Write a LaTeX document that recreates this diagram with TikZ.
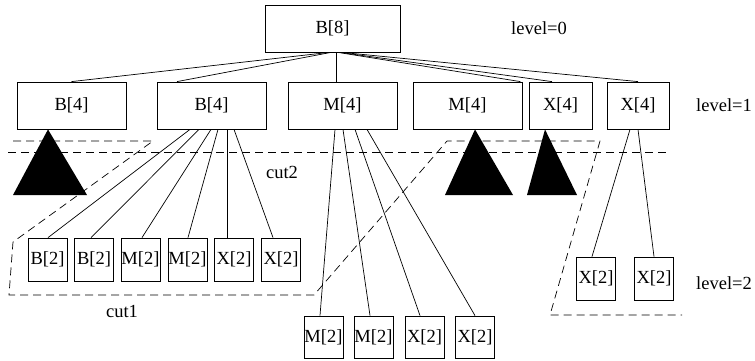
\documentclass[tikz,border=0pt]{standalone}
\usepackage{fontspec}
\setmainfont{Liberation Serif}
\begin{document}
\begin{tikzpicture}[x=1pt,y=-1pt,
  every node/.style={font=\fontsize{18.5}{20}\selectfont, inner sep=0pt},
  box/.style={draw, line width=0.8pt, minimum height=47pt},
  bigbox/.style={box, minimum width=109pt},
  smallbox/.style={draw, line width=0.8pt, minimum width=39pt, minimum height=43pt},
  edge/.style={line width=0.7pt},
  cutline/.style={line width=0.7pt, dash pattern=on 8pt off 5pt},
  tri/.style={fill=black}
]
\useasboundingbox (0,0) rectangle (755,360);

% root
\node[box, minimum width=135pt] (root) at (332.5,28.5) {B[8]};
% level 1
\node[bigbox] (b1) at (71.5,105.5) {B[4]};
\node[bigbox] (b2) at (211.5,105.5) {B[4]};
\node[bigbox] (m1) at (342.5,105.5) {M[4]};
\node[bigbox] (m2) at (467.5,105.5) {M[4]};
\node[box, minimum width=63pt] (x1) at (560.5,105.5) {X[4]};
\node[box, minimum width=62pt] (x2) at (638,105.5) {X[4]};

% labels
\node (l0) at (539,28) {level=0};
\node (l1) at (724,105) {level=1};
\node (l2) at (724,283) {level=2};
\node (c2) at (282,172) {cut2};
\node (c1) at (122,311) {cut1};

% root edges
\draw[edge] ([xshift=-3.5pt]root.south) -- (b1.north);
\draw[edge] ([xshift=-1.5pt]root.south) -- ([xshift=-34.5pt]b2.north);
\draw[edge] ([xshift=3.5pt]root.south) -- ([xshift=-6.5pt]m1.north);
\draw[edge] ([xshift=5.5pt]root.south) -- ([xshift=-2pt]m2.north east);
\draw[edge] ([xshift=7.5pt]root.south) -- ([xshift=-8.5pt]x1.north);
\draw[edge] ([xshift=9.5pt]root.south) -- (x2.north);

% level 2 under b2
\node[smallbox] (s1) at (47.5,259.5) {B[2]};
\node[smallbox] (s2) at (94,259.5) {B[2]};
\node[smallbox] (s3) at (140.5,259.5) {M[2]};
\node[smallbox] (s4) at (187.5,259.5) {M[2]};
\node[smallbox] (s5) at (234,259.5) {X[2]};
\node[smallbox] (s6) at (281,259.5) {X[2]};
\draw[edge] ([xshift=-21.5pt]b2.south) -- ([xshift=0.5pt]s1.north);
\draw[edge] ([xshift=-12.5pt]b2.south) -- ([xshift=-3pt]s2.north);
\draw[edge] ([xshift=-0.5pt]b2.south) -- ([xshift=1.5pt]s3.north);
\draw[edge] ([xshift=6.5pt]b2.south) -- ([xshift=0.5pt]s4.north);
\draw[edge] ([xshift=15.5pt]b2.south) -- ([xshift=-7pt]s5.north);
\draw[edge] ([xshift=22.5pt]b2.south) -- ([xshift=-8pt]s6.north);

% level 2 under m1
\node[smallbox, minimum height=42pt] (t1) at (323.5,337) {M[2]};
\node[smallbox, minimum height=42pt] (t2) at (373.5,337) {M[2]};
\node[smallbox, minimum height=42pt] (t3) at (424.5,337) {X[2]};
\node[smallbox, minimum height=42pt] (t4) at (475,337) {X[2]};
\draw[edge] ([xshift=-7.5pt]m1.south) -- ([xshift=-3.5pt]t1.north);
\draw[edge] ([xshift=0.5pt]m1.south) -- ([xshift=-3.5pt]t2.north);
\draw[edge] ([xshift=12.5pt]m1.south) -- ([xshift=-4.5pt]t3.north);
\draw[edge] ([xshift=24.5pt]m1.south) -- (t4.north);

% level 2 under x2
\node[smallbox] (u1) at (596,278.5) {X[2]};
\node[smallbox] (u2) at (654,278.5) {X[2]};
\draw[edge] ([xshift=-8pt]x2.south) -- ([xshift=-4pt]u1.north);
\draw[edge] (x2.south) -- (u2.north);

% subtree triangles
\fill[tri] (b1.south -| 48,0) -- (13,195) -- (87,195) -- cycle;
\fill[tri] (m2.south -| 475,0) -- (445,195) -- (513,195) -- cycle;
\fill[tri] (x1.south -| 545,0) -- (527,195) -- (577,195) -- cycle;

% cut lines
\draw[cutline] (13,141) -- (153,141) -- (13,242) -- (9,295) -- (314,295)
  -- (447,141) -- (600,141) -- (550,315) -- (682,315);
\draw[cutline] (8,152) -- (670,152);
\end{tikzpicture}
\end{document}
